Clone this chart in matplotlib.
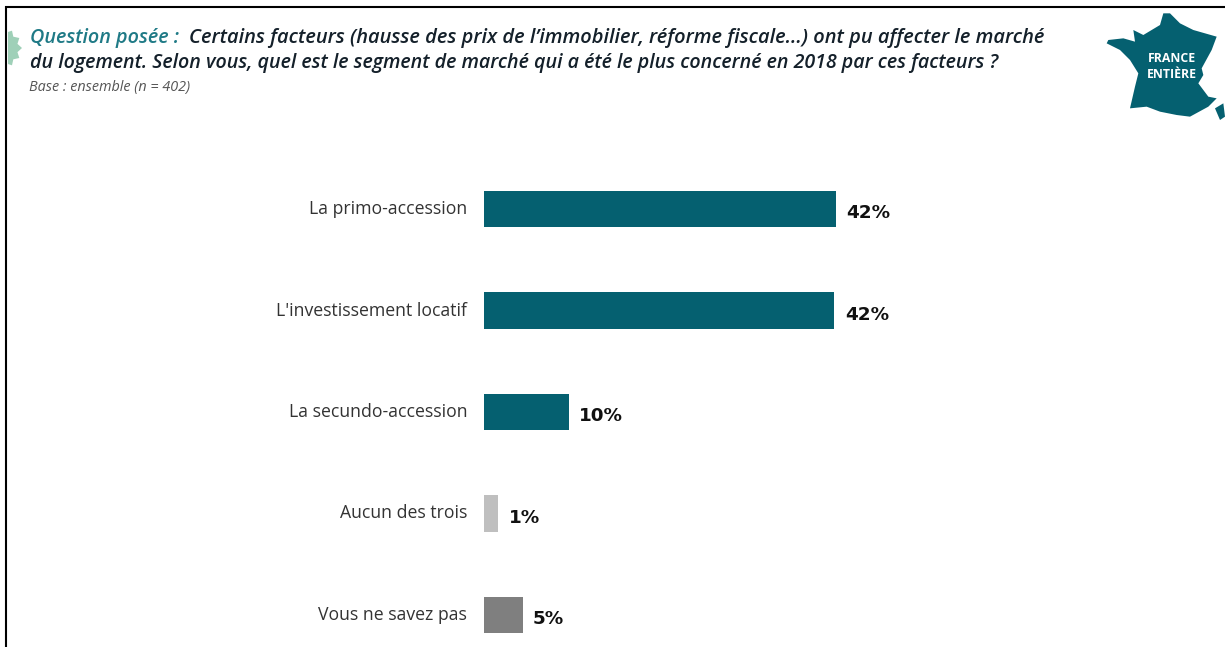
import numpy as np
import matplotlib
matplotlib.use("Agg")
import matplotlib.pyplot as plt
from matplotlib.patches import Polygon

W, H = 1225, 647

categories = ["La primo-accession", "L'investissement locatif", "La secundo-accession",
              "Aucun des trois", "Vous ne savez pas"]
values = [42.0, 41.8, 10.1, 1.7, 4.6]
labels = ["42%", "42%", "10%", "1%", "5%"]
colors = ["#056070", "#056070", "#056070", "#bfbfbf", "#7f7f7f"]

title_a = "Question posée : "
title_b = "Certains facteurs (hausse des prix de l’immobilier, réforme fiscale...) ont pu affecter le marché"
title_c = "du logement. Selon vous, quel est le segment de marché qui a été le plus concerné en 2018 par ces facteurs ?"
base_txt = "Base : ensemble (n = 402)"

plt.rcParams['font.family'] = ['Open Sans', 'DejaVu Sans']

fig = plt.figure(figsize=(W / 100, H / 100), dpi=100)

# overlay in pixel coords for the frame, title and logo
bg = fig.add_axes([0, 0, 1, 1])
bg.set_xlim(0, W)
bg.set_ylim(H, 0)
bg.axis("off")

bg.plot([6, 6], [H, 6], color="black", lw=1.5, solid_capstyle="butt")
bg.plot([5, W], [7, 7], color="black", lw=1.5, solid_capstyle="butt")

# green badge cut off on the left
ang = np.linspace(0, 2 * np.pi, 25)[:-1]
rad = np.where(np.arange(24) % 2 == 0, 20, 16)
star = Polygon(np.c_[2 + rad * np.cos(ang), 48 + rad * np.sin(ang)], color="#9fd0b8", lw=0)
bg.add_patch(star)
star.set_clip_path(bg.add_patch(plt.Rectangle((7.5, 0), 30, 100, fc="none", ec="none")))

bg.text(30, 37.5, title_a, color="#1f7a86", fontsize=14.2, style="italic", weight="semibold", va="center")
bg.text(189, 37.5, title_b, color="#14202a", fontsize=14.4, style="italic", weight="semibold", va="center")
bg.text(30, 63, title_c, color="#14202a", fontsize=14.15, style="italic", weight="semibold", va="center")
bg.text(29, 88, base_txt, color="#555555", fontsize=10.4, style="italic", va="center")

# map of France
france = [(250, 40), (270, 40), (300, 70), (340, 90), (410, 110), (395, 150), (365, 205), (370, 225),
          (355, 250), (385, 290), (410, 295), (385, 320), (330, 350), (290, 345), (240, 335), (200, 320),
          (150, 325), (165, 260), (175, 220), (150, 180), (120, 150), (80, 130), (85, 120), (130, 115),
          (165, 125), (160, 90), (190, 105), (240, 75)]
corsica = [(405, 325), (430, 310), (435, 350), (420, 360)]
for shape in (france, corsica):
    pts = [(1080 + x / 3, y / 3) for x, y in shape]
    bg.add_patch(Polygon(pts, color="#056070", lw=0))
bg.text(1171.5, 58, "FRANCE", color="white", fontsize=8.8, weight="bold", ha="center", va="center")
bg.text(1171.5, 74, "ENTIÈRE", color="white", fontsize=8.8, weight="bold", ha="center", va="center")

# bars
ax = fig.add_axes([484 / W, 0, (W - 484) / W, (H - 158.25) / H])
ax.patch.set_alpha(0)
y = np.arange(len(categories))
ax.barh(y, values, height=0.36, color=colors)
for i, v in enumerate(values):
    ax.annotate(labels[i], (v, i), xytext=(7.5, -3), textcoords="offset points", va="center",
                fontsize=13.2, weight="bold", color="#111111", family="DejaVu Sans")
ax.set_xlim(0, (W - 484) / 8.38)
ax.set_ylim(4 + (H - 615) / 101.5, -0.5)
ax.set_xticks([])
ax.set_yticks(y)
ax.set_yticklabels(categories, fontsize=12.7, color="#333333", va="center")
ax.tick_params(axis="y", length=0, pad=12)
for s in ax.spines.values():
    s.set_visible(False)

fig.savefig("out.png", dpi=100)
